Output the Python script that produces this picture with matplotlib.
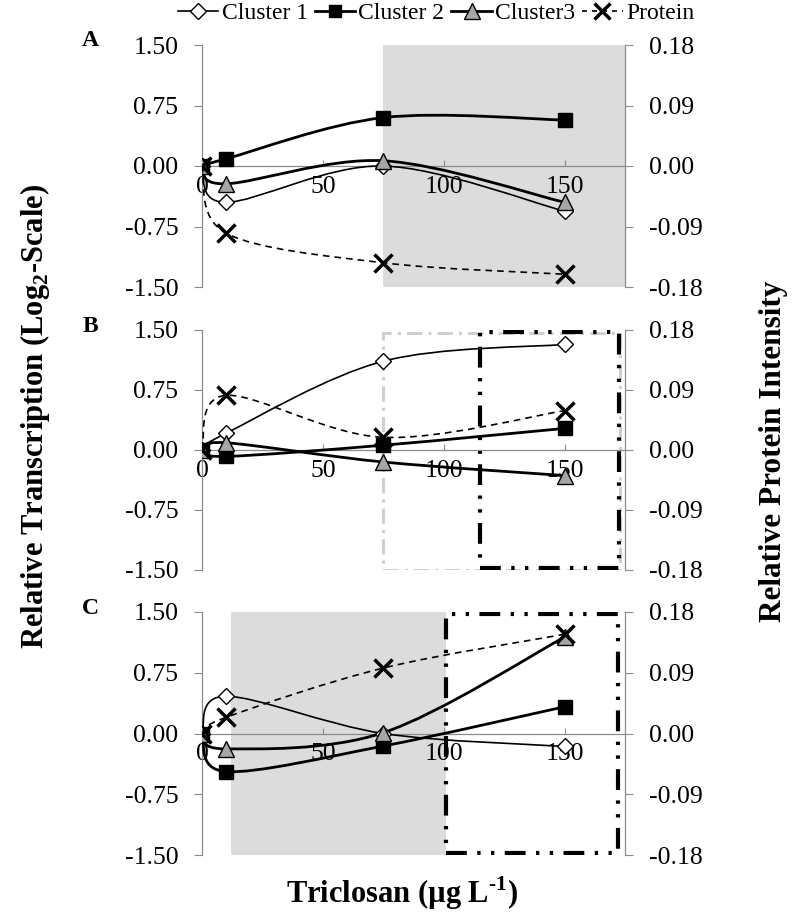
import numpy as np
import matplotlib
matplotlib.use("Agg")
import matplotlib.pyplot as plt
from matplotlib.path import Path
from matplotlib.patches import PathPatch, Rectangle
from matplotlib.lines import Line2D

plt.rcParams['font.family'] = ['Liberation Serif', 'DejaVu Serif']
plt.rcParams['mathtext.fontset'] = 'custom'
plt.rcParams['mathtext.rm'] = 'Liberation Serif:bold'
plt.rcParams['mathtext.bf'] = 'Liberation Serif:bold'

# triclosan dose (ug/L)
dose = [0, 10, 75, 150]

# relative transcription (log2), per panel
cl1 = {"A": [0, -0.45, 0.00, -0.56],
       "B": [0, 0.21, 1.11, 1.32],
       "C": [0, 0.46, 0.00, -0.16]}
cl2 = {"A": [0, 0.09, 0.60, 0.57],
       "B": [0, -0.08, 0.06, 0.27],
       "C": [0, -0.47, -0.155, 0.33]}
cl3 = {"A": [0, -0.22, 0.065, -0.45],
       "B": [0, 0.09, -0.15, -0.32],
       "C": [0, -0.19, 0.01, 1.19]}
# relative protein intensity (right axis)
prot = {"A": [0, -0.100, -0.144, -0.161],
        "B": [0, 0.082, 0.019, 0.059],
        "C": [0, 0.024, 0.097, 0.147]}

# highlighted dose windows
shade = {"A": (75, 175), "C": (12, 101)}
grey_box = {"B": (75, 173)}
black_box = {"B": (115, 172.5), "C": (101, 172)}

yticks = [-1.5, -0.75, 0, 0.75, 1.5]
yticks_r = [-0.18, -0.09, 0, 0.09, 0.18]


def smooth_path(x, y):
    # excel-style smoothed line: cubic bezier through every point
    p = np.column_stack([x, y]).astype(float)
    n = len(p)
    verts = [p[0]]
    codes = [Path.MOVETO]
    for i in range(n - 1):
        p0 = p[i - 1] if i > 0 else p[i]
        p3 = p[i + 2] if i + 2 < n else p[i + 1]
        c1 = p[i] + (p[i + 1] - p0) / 6
        c2 = p[i + 1] - (p3 - p[i]) / 6
        verts += [c1, c2, p[i + 1]]
        codes += [Path.CURVE4] * 3
    return Path(verts, codes)


fig = plt.figure(figsize=(8, 9.17), dpi=100)

W, H = 800, 917
left, right = 202, 625
panels = [("A", 45, 287), ("B", 330, 570), ("C", 612, 855)]
grey = "#8c8c8c"
tfs = 18.5

for name, top, bot in panels:
    ax = fig.add_axes([left / W, 1 - bot / H, (right - left) / W, (bot - top) / H])
    ax.set_xlim(0, 175)
    ax.set_ylim(-1.5, 1.5)
    ax.set_yticks(yticks)
    ax.set_yticklabels(["%.2f" % v for v in yticks])
    ax.set_xticks([0, 50, 100, 150])
    ax.spines['top'].set_visible(False)
    ax.spines['right'].set_visible(False)
    ax.spines['bottom'].set_position(('data', 0))
    for s in ['left', 'bottom']:
        ax.spines[s].set_color(grey)
        ax.spines[s].set_linewidth(0.9)
    ax.tick_params(axis='y', direction='out', length=6, color=grey, labelsize=tfs, pad=11)
    ax.tick_params(axis='x', direction='in', length=4, color=grey, labelsize=tfs, pad=7)
    ax.patch.set_alpha(0)

    if name in shade:
        ax.axvspan(*shade[name], color="#dcdcdc", zorder=0, lw=0)
    if name in grey_box:
        x0, x1 = grey_box[name]
        ax.add_patch(Rectangle((x0, -1.5), x1 - x0, 2.96, fill=False, ec="#cfcfcf",
                               lw=2.2, ls=(0, (5, 2, 1, 2)), zorder=1))
    if name in black_box:
        x0, x1 = black_box[name]
        ax.add_patch(Rectangle((x0, -1.47), x1 - x0, 2.95, fill=False, ec="black",
                               lw=3, ls=(0, (5, 2.5, 0.8, 2.5, 0.8, 2.5)), zorder=1))

    for ys, lw, mk, fc, ms in [(cl1[name], 1.2, 'D', 'white', 8.5),
                               (cl2[name], 2.0, 's', 'black', 9.5),
                               (cl3[name], 2.0, '^', '#a6a6a6', 11.5)]:
        ax.add_patch(PathPatch(smooth_path(dose, ys), fill=False, lw=lw, ec='black', zorder=3))
        ax.plot(dose, ys, ls='none', marker=mk, mfc=fc, mec='black', ms=ms, mew=1.0, zorder=4)

    ax2 = ax.twinx()
    ax2.set_ylim(-0.18, 0.18)
    ax2.set_yticks(yticks_r)
    ax2.set_yticklabels(["%.2f" % v for v in yticks_r])
    for s in ['top', 'bottom', 'left']:
        ax2.spines[s].set_visible(False)
    ax2.spines['right'].set_color(grey)
    ax2.spines['right'].set_linewidth(0.9)
    ax2.tick_params(axis='y', direction='out', length=6, color=grey, labelsize=tfs, pad=11)
    ax2.add_patch(PathPatch(smooth_path(dose, prot[name]), fill=False, lw=1.2, ec='black',
                            ls=(0, (4, 3)), zorder=3))
    ax2.plot(dose, prot[name], ls='none', marker='x', color='black', ms=13, mew=2.5, zorder=5)

    fig.text(90 / W, 1 - (top - 4) / H, name, fontsize=17, fontweight='bold', ha='center', va='center')

fig.text(35 / W, 1 - 417 / H, r'Relative Transcription (Log$_\mathbf{2}$-Scale)', rotation=90,
         fontsize=22, fontweight='bold', ha='center', va='center')
fig.text(774 / W, 1 - 451 / H, 'Relative Protein Intensity', rotation=90,
         fontsize=22.5, fontweight='bold', ha='center', va='center')
fig.text(402 / W, 1 - 893 / H, r'Triclosan (µg L$^{\text{-1}}$)',
         fontsize=22, fontweight='bold', ha='center', va='center')

handles = [
    Line2D([], [], color='black', lw=1.2, marker='D', mfc='white', mec='black', ms=8),
    Line2D([], [], color='black', lw=2.0, marker='s', mfc='black', ms=9),
    Line2D([], [], color='black', lw=2.0, marker='^', mfc='#a6a6a6', mec='black', ms=11),
    Line2D([], [], color='black', lw=1.2, ls=(0, (3, 3)), marker='x', ms=12, mew=2.5),
]
fig.legend(handles, ['Cluster 1', 'Cluster 2', 'Cluster3', 'Protein'], loc='center',
           bbox_to_anchor=(436 / W, 1 - 13 / H), ncol=4, frameon=False, fontsize=17,
           handlelength=1.7, handletextpad=0.15, columnspacing=0.3)

fig.savefig("out.png", dpi=100)
